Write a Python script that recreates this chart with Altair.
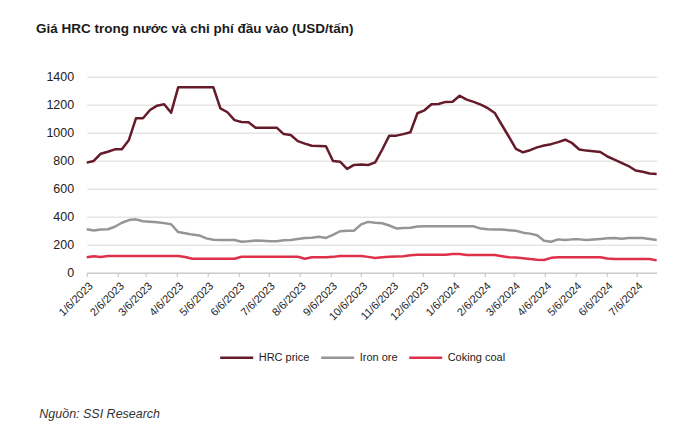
import altair as alt
import pandas as pd

title_text = "Giá HRC trong nước và chi phí đầu vào (USD/tấn)"
source_text = "Nguồn: SSI Research"
series_names = ["HRC price", "Iron ore", "Coking coal"]
series_colors = ["#661b2a", "#959595", "#df3049"]

hrc_price = [786, 798, 850, 864, 881, 881, 948, 1103, 1103, 1162, 1193, 1203, 1143,
             1324, 1324, 1324, 1324, 1324, 1324, 1174, 1146, 1090, 1076, 1074, 1036,
             1036, 1036, 1036, 990, 984, 940, 922, 907, 905, 903, 798, 793, 741, 770,
             772, 769, 788, 880, 979, 979, 990, 1003, 1139, 1160, 1203, 1205, 1220,
             1221, 1264, 1236, 1220, 1200, 1175, 1140, 1055, 971, 885, 860, 875, 895,
             908, 918, 933, 950, 925, 880, 872, 868, 862, 830, 808, 785, 762, 730,
             721, 708, 705]
iron_ore = [310, 302, 308, 310, 328, 357, 376, 381, 368, 364, 360, 354, 346, 290, 282,
            272, 266, 245, 235, 234, 234, 233, 221, 224, 230, 228, 224, 225, 231, 233,
            240, 248, 249, 256, 248, 270, 296, 300, 300, 345, 363, 356, 353, 337, 316,
            320, 321, 330, 331, 331, 331, 331, 331, 331, 331, 331, 315, 311, 309, 308,
            304, 300, 286, 279, 268, 228, 221, 238, 234, 238, 238, 234, 237, 241, 246,
            248, 243, 247, 248, 248, 241, 234]
coking_coal = [110, 118, 112, 119, 119, 119, 119, 119, 119, 119, 119, 119, 119, 119,
               112, 100, 100, 100, 100, 100, 100, 100, 114, 114, 114, 114, 114, 114,
               114, 114, 114, 100, 110, 110, 110, 113, 119, 119, 119, 119, 113, 105,
               110, 114, 116, 118, 125, 129, 129, 129, 129, 129, 133, 133, 126, 126,
               126, 126, 126, 118, 110, 108, 103, 97, 93, 91, 106, 110, 110, 110, 110,
               110, 110, 110, 101, 98, 98, 98, 98, 98, 98, 88]

# weekly observation dates (Fridays), first 6 Jan 2023
dates = pd.date_range("2023-01-06", periods=len(hrc_price), freq="7D")

# monthly tick positions (6th of each month)
tick_months = [(2023, m) for m in range(1, 13)] + [(2024, m) for m in range(1, 8)]
y_ticks = [0, 200, 400, 600, 800, 1000, 1200, 1400]

rows = []
for name, vals in zip(series_names, [hrc_price, iron_ore, coking_coal]):
    for d, v in zip(dates, vals):
        rows.append({"date": d, "value": v, "series": name})
df = pd.DataFrame(rows)

FONT = "Liberation Sans, Arial, sans-serif"

lines = alt.Chart(df).mark_line(strokeWidth=2.5, strokeJoin="round").encode(
    x=alt.X("date:T", title=None,
            scale=alt.Scale(nice=False),
            axis=alt.Axis(values=[alt.DateTime(year=y, month=m, date=6) for y, m in tick_months],
                          format="%-m/%-d/%Y", labelAngle=-45, labelFontSize=11,
                          labelFont=FONT, labelColor="#222222", grid=False,
                          domainColor="#bfbfbf", tickColor="#bfbfbf", tickSize=4,
                          labelPadding=3, labelFlush=False, labelOverlap=False)),
    y=alt.Y("value:Q", title=None,
            scale=alt.Scale(domain=[0, 1400], nice=False),
            axis=alt.Axis(values=y_ticks, format="d",
                          labelFontSize=12.5, labelFont=FONT, labelColor="#222222",
                          domain=False, ticks=False, tickSize=0, labelPadding=13,
                          gridColor="#d9d9d9", gridWidth=1)),
    color=alt.Color("series:N", sort=series_names,
                    scale=alt.Scale(domain=series_names, range=series_colors),
                    legend=alt.Legend(title=None, orient="none", direction="horizontal",
                                      legendX=132, legendY=263, symbolType="stroke",
                                      symbolSize=1089, symbolStrokeWidth=2.5,
                                      labelFont=FONT, labelFontSize=11,
                                      labelColor="#222222", labelOffset=4,
                                      columnPadding=6, padding=0)),
)

source = alt.Chart(pd.DataFrame({"t": [source_text]})).mark_text(
    align="left", baseline="middle", font=FONT, fontSize=12.5, fontStyle="italic",
    color="#333333"
).encode(text="t:N", x=alt.value(-47.4), y=alt.value(337.3))

chart = alt.layer(lines, source).properties(
    width=570, height=196,
    title=alt.TitleParams(title_text, anchor="start", frame="group", dx=-50.7,
                          offset=35, font=FONT, fontSize=13.5, fontWeight="bold",
                          color="#1a1a1a"),
    autosize=alt.AutoSizeParams(type="none"),
    padding={"left": 78.7, "top": 68.7, "right": 30, "bottom": 160},
).configure_view(stroke=None)

chart.save("out.html", embed_options={"renderer": "svg", "actions": False})
